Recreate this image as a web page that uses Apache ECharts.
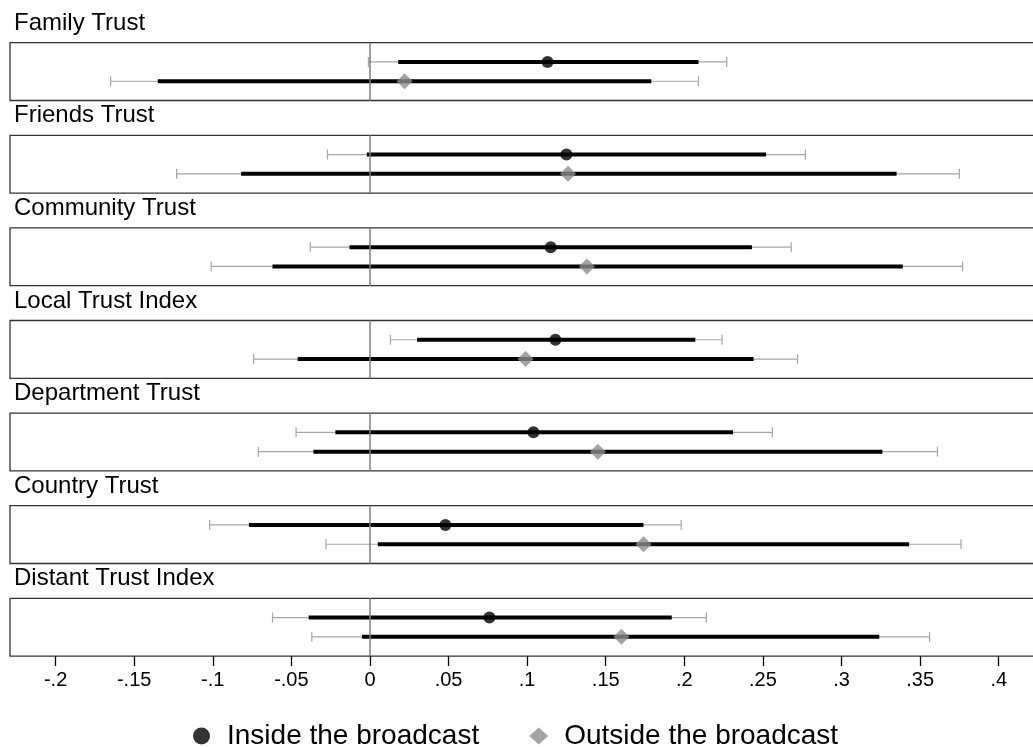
<!DOCTYPE html>
<html>
<head>
<meta charset="utf-8">
<script src="https://cdn.jsdelivr.net/npm/echarts@6/dist/echarts.min.js"></script>
<style>
  html, body { margin: 0; padding: 0; background: #fff; overflow: hidden; }
  /* the frame's right edge runs off the page in the original, so the canvas is wider than the window */
  #chart { width: 1045px; height: 747px; }
</style>
</head>
<body>
<div id="chart"></div>
<script>
// Panel titles, top to bottom.
const PANELS = [
  "Family Trust", "Friends Trust", "Community Trust", "Local Trust Index",
  "Department Trust", "Country Trust", "Distant Trust Index",
];

// Inside the broadcast: point estimate, 90% (thick) and 95% (thin) bounds.
const INSIDE_EST  = [0.113, 0.125, 0.115, 0.118, 0.104, 0.048, 0.076];
const INSIDE_LO90 = [0.018, -0.002, -0.013, 0.030, -0.022, -0.077, -0.039];
const INSIDE_HI90 = [0.209, 0.252, 0.243, 0.207, 0.231, 0.174, 0.192];
const INSIDE_LO95 = [-0.001, -0.027, -0.038, 0.013, -0.047, -0.102, -0.062];
const INSIDE_HI95 = [0.227, 0.277, 0.268, 0.224, 0.256, 0.198, 0.214];

// Outside the broadcast.
const OUTSIDE_EST  = [0.022, 0.126, 0.138, 0.099, 0.145, 0.174, 0.160];
const OUTSIDE_LO90 = [-0.135, -0.082, -0.062, -0.046, -0.036, 0.005, -0.005];
const OUTSIDE_HI90 = [0.179, 0.335, 0.339, 0.244, 0.326, 0.343, 0.324];
const OUTSIDE_LO95 = [-0.165, -0.123, -0.101, -0.074, -0.071, -0.028, -0.037];
const OUTSIDE_HI95 = [0.209, 0.375, 0.377, 0.272, 0.361, 0.376, 0.356];

const TICK_VALUES = [-0.2, -0.15, -0.1, -0.05, 0, 0.05, 0.1, 0.15, 0.2, 0.25, 0.3, 0.35, 0.4];
const TICK_LABELS = ["-.2", "-.15", "-.1", "-.05", "0", ".05", ".1", ".15", ".2", ".25", ".3", ".35", ".4"];

const FONT = "Liberation Sans, Arial, Helvetica, sans-serif";
const X_MIN = -0.229;
const X_MAX = 0.4269;
const ROW_IN = 2;   // upper row of each box
const ROW_OUT = 1;  // lower row

const grid = [], xAxis = [], yAxis = [], title = [], series = [];

PANELS.forEach((name, i) => {
  const top = 42.7 + 92.6 * i;
  const last = i === PANELS.length - 1;

  grid.push({
    left: 10, top, width: 1031, height: 57.8,
    show: true, borderColor: "#333", borderWidth: 1.3,
  });
  title.push({
    text: name, left: 9, top: top - 36.5,
    textStyle: { fontFamily: FONT, fontSize: 24, fontWeight: "normal", color: "#000" },
  });
  xAxis.push({
    type: "value", gridIndex: i, min: X_MIN, max: X_MAX,
    show: last,
    axisLine: { show: false },
    splitLine: { show: false },
    axisTick: {
      show: last, customValues: TICK_VALUES, length: 10,
      lineStyle: { color: "#000", width: 1.3 },
    },
    axisLabel: {
      show: last, customValues: TICK_VALUES, margin: 14,
      fontFamily: FONT, fontSize: 20, color: "#000",
      formatter: (v) => {
        const k = TICK_VALUES.findIndex((t) => Math.abs(t - v) < 1e-6);
        return k < 0 ? "" : TICK_LABELS[k];
      },
    },
  });
  yAxis.push({ type: "value", gridIndex: i, min: 0, max: 3, show: false });

  // confidence bars: thin grey 95% with caps, thick black 90% on top
  series.push({
    type: "custom", xAxisIndex: i, yAxisIndex: i, silent: true,
    data: [
      [INSIDE_LO95[i], INSIDE_HI95[i], INSIDE_LO90[i], INSIDE_HI90[i], ROW_IN],
      [OUTSIDE_LO95[i], OUTSIDE_HI95[i], OUTSIDE_LO90[i], OUTSIDE_HI90[i], ROW_OUT],
    ],
    encode: { x: [0, 1, 2, 3], y: 4 },
    renderItem: (params, api) => {
      const y = api.value(4);
      const a = api.coord([api.value(0), y]);
      const b = api.coord([api.value(1), y]);
      const c = api.coord([api.value(2), y]);
      const d = api.coord([api.value(3), y]);
      const thin = { stroke: "#a6a6a6", lineWidth: 1.2 };
      return {
        type: "group",
        children: [
          { type: "line", shape: { x1: a[0], y1: a[1], x2: b[0], y2: b[1] }, style: thin },
          { type: "line", shape: { x1: a[0], y1: a[1] - 5, x2: a[0], y2: a[1] + 5 }, style: thin },
          { type: "line", shape: { x1: b[0], y1: b[1] - 5, x2: b[0], y2: b[1] + 5 }, style: thin },
          { type: "line", shape: { x1: c[0], y1: c[1], x2: d[0], y2: d[1] },
            style: { stroke: "#000", lineWidth: 4, lineCap: "butt" } },
        ],
      };
    },
    markLine: {
      silent: true, symbol: "none", animation: false,
      label: { show: false },
      lineStyle: { color: "#7f7f7f", width: 1.5, type: "solid" },
      data: [{ xAxis: 0 }],
    },
    z: 2,
  });

  series.push({
    name: "Inside the broadcast", type: "scatter", xAxisIndex: i, yAxisIndex: i,
    symbol: "circle", symbolSize: 12, itemStyle: { color: "#000" },
    data: [[INSIDE_EST[i], ROW_IN]], z: 3, silent: true,
  });
  series.push({
    name: "Outside the broadcast", type: "scatter", xAxisIndex: i, yAxisIndex: i,
    symbol: "diamond", symbolSize: 16, itemStyle: { color: "#8c8c8c" },
    data: [[OUTSIDE_EST[i], ROW_OUT]], z: 3, silent: true,
  });
});

const chart = echarts.init(document.getElementById("chart"), null, { renderer: "canvas" });
chart.setOption({
  animation: false,
  backgroundColor: "#fff",
  title,
  grid,
  xAxis,
  yAxis,
  legend: {
    left: 188, top: 717,
    itemWidth: 19, itemHeight: 17, itemGap: 50,
    selectedMode: false,
    data: [
      { name: "Inside the broadcast", icon: "circle" },
      { name: "Outside the broadcast", icon: "diamond" },
    ],
    textStyle: { fontFamily: FONT, fontSize: 28, color: "#000", padding: [0, 0, 0, 11] },
  },
  series,
});
</script>
</body>
</html>
